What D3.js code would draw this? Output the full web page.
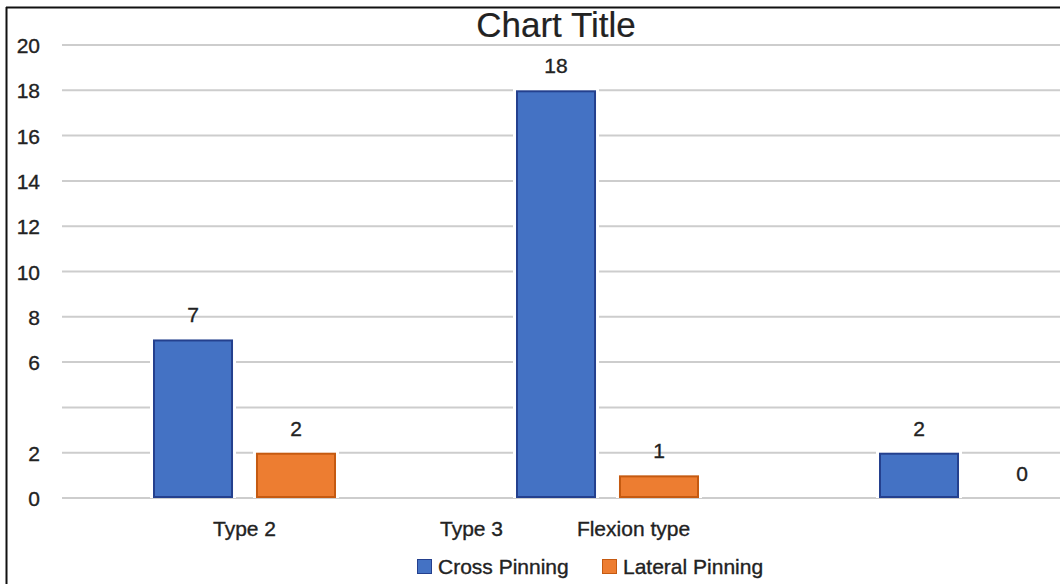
<!DOCTYPE html>
<html>
<head>
<meta charset="utf-8">
<script src="https://cdn.jsdelivr.net/npm/d3@7"></script>
<style>
  html, body { margin: 0; padding: 0; background: #fff; }
  svg { display: block; }
  text { font-family: "Liberation Sans", Arial, sans-serif; fill: #222; stroke: #222; stroke-width: 0.35px; }
</style>
</head>
<body>
<svg id="chart" width="1060" height="584"></svg>
<script>
// Chart data
const categories = ["Type 2", "Type 3", "Flexion type"];
const seriesNames = ["Cross Pinning", "Lateral Pinning"];
const crossPinning = [7, 18, 2];
const lateralPinning = [2, 1, 0];
const gridValues = [0, 2, 4, 6, 8, 10, 12, 14, 16, 18, 20];
const tickLabels = ["0", "2", "6", "8", "10", "12", "14", "16", "18", "20"];
const chartTitle = "Chart Title";

const colors = { "Cross Pinning": "#4472C4", "Lateral Pinning": "#ED7D31" };
const strokes = { "Cross Pinning": "#24408E", "Lateral Pinning": "#C55A11" };

const svg = d3.select("#chart");
const W = 1060, H = 584;

// Frame (top and left edges of the chart box)
svg.append("line").attr("x1", 6).attr("x2", W).attr("y1", 7.5).attr("y2", 7.5)
  .attr("stroke", "#111").attr("stroke-width", 2);
svg.append("line").attr("x1", 6.5).attr("x2", 6.5).attr("y1", 7).attr("y2", H)
  .attr("stroke", "#111").attr("stroke-width", 2);

// Scales
const y = d3.scaleLinear().domain([0, 20]).range([498, 45]);
const x = d3.scaleBand().domain(d3.range(categories.length)).range([63, 1152]).padding(0);
const xInner = d3.scaleBand().domain(seriesNames).range([0, x.bandwidth()])
  .paddingInner(0.223).paddingOuter(0.874);

// Gridlines
svg.append("g").selectAll("line").data(gridValues).join("line")
  .attr("x1", 62).attr("x2", W)
  .attr("y1", d => y(d)).attr("y2", d => y(d))
  .attr("stroke", "#cdcdcd").attr("stroke-width", 2);

// Y tick labels
svg.append("g").selectAll("text").data(tickLabels).join("text")
  .attr("x", 40).attr("y", d => y(+d) + 8)
  .attr("text-anchor", "end")
  .attr("font-size", 21)
  .text(d => d);

// Title
svg.append("text").attr("x", 556).attr("y", 37)
  .attr("text-anchor", "middle").attr("font-size", 35)
  .style("stroke-width", "0.2px")
  .text(chartTitle);

// Bars
const rows = categories.map((c, i) => ({
  i, values: [
    { s: "Cross Pinning", v: crossPinning[i] },
    { s: "Lateral Pinning", v: lateralPinning[i] }
  ]
}));

const groups = svg.append("g").selectAll("g").data(rows).join("g")
  .attr("transform", d => `translate(${x(d.i)},0)`);

// white halo that separates bars from gridlines
groups.selectAll("rect.halo").data(d => d.values.filter(e => e.v > 0)).join("rect")
  .attr("class", "halo")
  .attr("x", d => xInner(d.s) - 3)
  .attr("y", d => y(d.v) - 3)
  .attr("width", xInner.bandwidth() + 6)
  .attr("height", d => y(0) - y(d.v) + 3)
  .attr("fill", "#fff");

groups.selectAll("rect.bar").data(d => d.values.filter(e => e.v > 0)).join("rect")
  .attr("class", "bar")
  .attr("x", d => xInner(d.s) + 1)
  .attr("y", d => y(d.v) + 1)
  .attr("width", xInner.bandwidth() - 2)
  .attr("height", d => y(0) - y(d.v) - 2)
  .attr("fill", d => colors[d.s])
  .attr("stroke", d => strokes[d.s])
  .attr("stroke-width", 2);

// Value labels
groups.selectAll("text.val").data(d => d.values).join("text")
  .attr("class", "val")
  .attr("x", d => xInner(d.s) + xInner.bandwidth() / 2)
  .attr("y", d => y(d.v) - 17)
  .attr("text-anchor", "middle")
  .attr("font-size", 21)
  .text(d => d.v);

// Category labels along the axis
const labelShift = [0, -136, -337];
svg.append("g").selectAll("text").data(categories).join("text")
  .attr("x", (d, i) => x(i) + x.bandwidth() / 2 + labelShift[i])
  .attr("y", 536)
  .attr("text-anchor", "middle")
  .attr("font-size", 21)
  .text(d => d);

// Legend
const legendX = [417, 602];
const legend = svg.append("g").selectAll("g").data(seriesNames).join("g")
  .attr("transform", (d, i) => `translate(${legendX[i]},559)`);
legend.append("rect").attr("x", 0.5).attr("y", 0.5).attr("width", 14).attr("height", 14)
  .attr("fill", d => colors[d]).attr("stroke", d => strokes[d]).attr("stroke-width", 1);
legend.append("text").attr("x", 21).attr("y", 15)
  .attr("font-size", 21)
  .text(d => d);
</script>
</body>
</html>
